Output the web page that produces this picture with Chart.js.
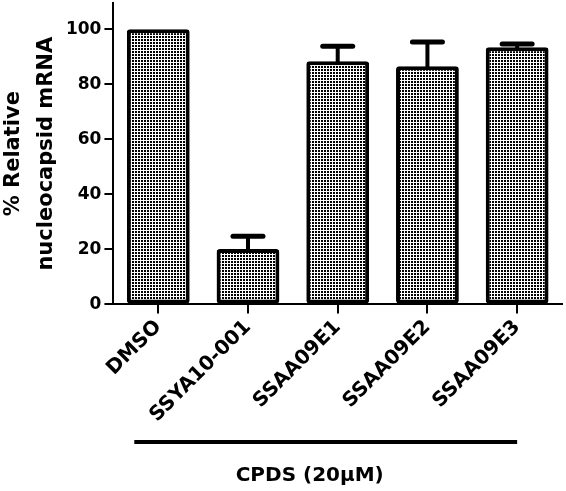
<!DOCTYPE html>
<html lang="en">
  <head>
    <meta charset="UTF-8" />
    <title>Relative nucleocapsid mRNA</title>
    <script src="https://cdn.jsdelivr.net/npm/chart.js"></script>
    <style>
      body { margin: 0; background: #fff; }
    </style>
  </head>
  <body>
    <canvas id="chart" width="566" height="491"></canvas>

    <script>
      let labels = ['DMSO', 'SSYA10-001', 'SSAA09E1', 'SSAA09E2', 'SSAA09E3'];
      let values = [100, 20.1, 88.3, 86.5, 93.4];
      let errors = [0, 4.7, 5.5, 8.8, 1.2]; // upper SEM only
      let yTicks = [0, 20, 40, 60, 80, 100];
      let groupLabel = 'CPDS (20µM)';

      const font = 'DejaVu Sans, Verdana, sans-serif';

      // dotted fill like the original figure
      function makePattern() {
        let c = document.createElement('canvas');
        c.width = 3;
        c.height = 3;
        let g = c.getContext('2d');
        g.fillStyle = '#fff';
        g.fillRect(0, 0, 3, 3);
        g.fillStyle = '#000';
        g.fillRect(0, 0, 2, 2);
        return g.createPattern(c, 'repeat');
      }

      // upper error bars
      const errorBars = {
        id: 'errorBars',
        afterDatasetsDraw(chart) {
          let ctx = chart.ctx;
          let meta = chart.getDatasetMeta(0);
          let y = chart.scales.y;
          ctx.save();
          ctx.strokeStyle = '#000';
          ctx.lineCap = 'round';
          meta.data.forEach((bar, i) => {
            if (!errors[i]) return;
            let top = y.getPixelForValue(values[i] + errors[i]);
            ctx.lineWidth = 4;
            ctx.beginPath();
            ctx.moveTo(bar.x, bar.y);
            ctx.lineTo(bar.x, top);
            ctx.stroke();
            ctx.lineWidth = 5;
            ctx.beginPath();
            ctx.moveTo(bar.x - 15, top);
            ctx.lineTo(bar.x + 15, top);
            ctx.stroke();
          });
          ctx.restore();
        },
      };

      // group line + label under the category names
      const groupMark = {
        id: 'groupMark',
        afterDraw(chart) {
          let ctx = chart.ctx;
          let x = chart.scales.x;
          let x0 = x.getPixelForValue(0) - 24;
          let x1 = x.getPixelForValue(labels.length - 1);
          ctx.save();
          ctx.strokeStyle = '#000';
          ctx.lineWidth = 4;
          ctx.beginPath();
          ctx.moveTo(x0, 442);
          ctx.lineTo(x1, 442);
          ctx.stroke();
          ctx.fillStyle = '#000';
          ctx.font = 'bold 20px ' + font;
          ctx.textAlign = 'center';
          ctx.textBaseline = 'middle';
          ctx.fillText(groupLabel, (x0 + x1) / 2 - 16, 476);
          ctx.restore();
        },
      };

      new Chart(document.getElementById('chart'), {
        type: 'bar',
        data: {
          labels,
          datasets: [
            {
              data: values,
              backgroundColor: makePattern(),
              borderColor: '#000',
              borderWidth: 4,
              borderRadius: 3,
              borderSkipped: false,
              categoryPercentage: 1,
              barPercentage: 0.7,
            },
          ],
        },
        options: {
          responsive: false,
          animation: false,
          layout: { padding: { top: 3, right: 4, bottom: 62, left: -3 } },
          plugins: { legend: { display: false }, tooltip: { enabled: false } },
          scales: {
            x: {
              grid: { offset: false, drawOnChartArea: false, color: '#000', lineWidth: 2, tickLength: 9 },
              border: { color: '#000', width: 2 },
              ticks: {
                color: '#000',
                font: { family: font, size: 20, weight: 'bold' },
                minRotation: 45,
                maxRotation: 45,
                padding: 2,
              },
            },
            y: {
              min: 0,
              max: 109.5,
              afterBuildTicks(axis) {
                axis.ticks = yTicks.map((v) => ({ value: v }));
              },
              afterFit(axis) {
                axis.paddingTop = 0;
              },
              grid: { drawOnChartArea: false, color: '#000', lineWidth: 2, tickLength: 9 },
              border: { color: '#000', width: 2 },
              ticks: {
                color: '#000',
                font: { family: font, size: 17, weight: 'bold' },
                padding: 3,
              },
              title: {
                display: true,
                text: ['% Relative', 'nucleocapsid mRNA'],
                color: '#000',
                font: { family: font, size: 21, weight: 'bold', lineHeight: 1.57 },
                padding: { top: 0, bottom: 0 },
              },
            },
          },
        },
        plugins: [errorBars, groupMark],
      });
    </script>
  </body>
</html>
